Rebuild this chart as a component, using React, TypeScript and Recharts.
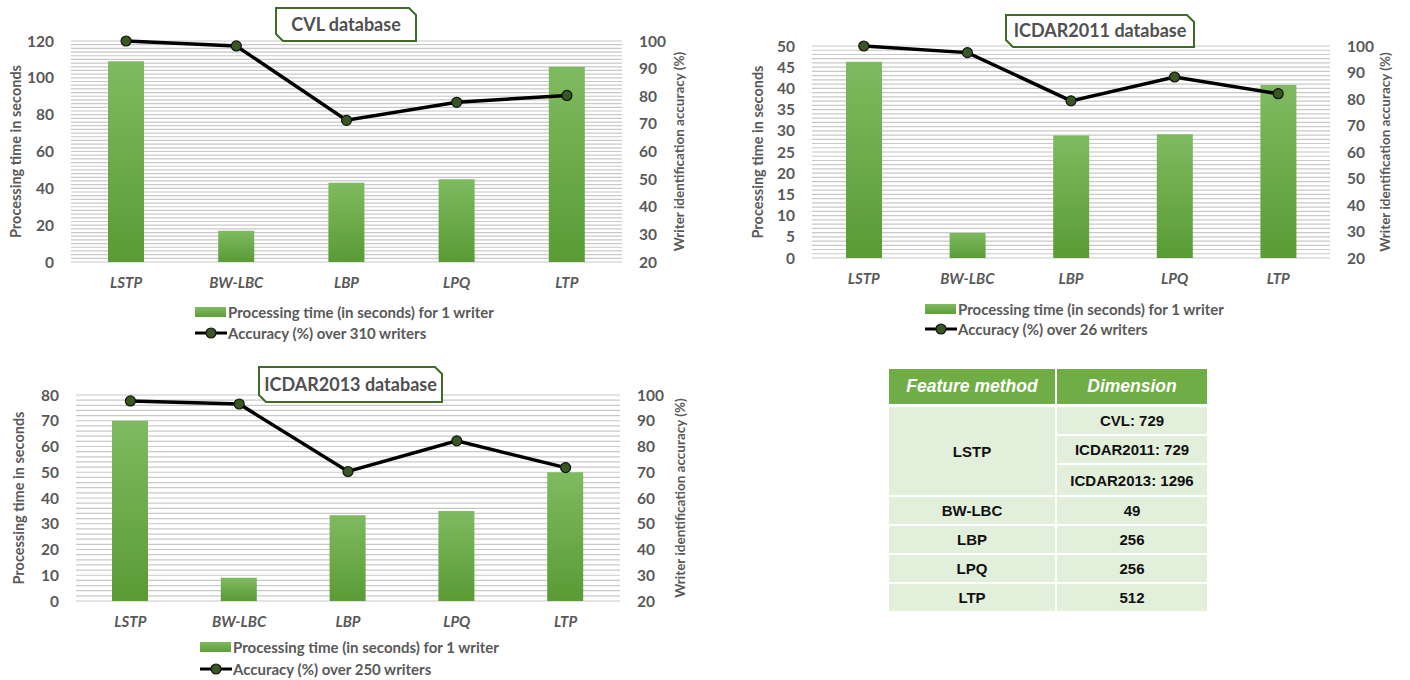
import React from 'react';
import {
  ComposedChart,
  Bar,
  Line,
  XAxis,
  YAxis,
  CartesianGrid,
  Legend,
} from 'recharts';

// ---------- data ----------
const categories = ['LSTP', 'BW-LBC', 'LBP', 'LPQ', 'LTP'];

const cvlTime = [109, 17, 43, 45, 106];
const cvlAcc = [100, 98.2, 71.3, 77.8, 80.3];

const icdar2011Time = [46.3, 5.9, 28.9, 29.2, 40.8];
const icdar2011Acc = [100, 97.5, 79.3, 88.3, 82];

const icdar2013Time = [70, 9, 33.3, 35, 50];
const icdar2013Acc = [97.7, 96.5, 70.3, 82.2, 71.8];

const cvlTimeTicks = [0, 20, 40, 60, 80, 100, 120];
const icdar2011TimeTicks = [0, 5, 10, 15, 20, 25, 30, 35, 40, 45, 50];
const icdar2013TimeTicks = [0, 10, 20, 30, 40, 50, 60, 70, 80];
const accTicks = [20, 30, 40, 50, 60, 70, 80, 90, 100];

const chartTitles = ['CVL database', 'ICDAR2011 database', 'ICDAR2013 database'];
const writerCounts = [310, 26, 250];

const barLegend = 'Processing time (in seconds) for 1 writer';
const leftAxisTitle = 'Processing time in seconds';
const rightAxisTitle = 'Writer identification accuracy (%)';

const tableHeader = ['Feature method', 'Dimension'];
const lstpDims = ['CVL: 729', 'ICDAR2011: 729', 'ICDAR2013: 1296'];
const otherMethods = ['BW-LBC', 'LBP', 'LPQ', 'LTP'];
const otherDims = ['49', '256', '256', '512'];

// ---------- styles ----------
const FONT = 'Lato, "Open Sans", sans-serif';
const GREY = '#595959';

const buildData = (times: number[], accs: number[]) =>
  categories.map((c, i) => ({ name: c, time: times[i], acc: accs[i] }));

const gridValues = (max: number, step: number) => {
  const out: number[] = [];
  for (let v = 0; v <= max + 1e-9; v += step) out.push(Math.round(v * 100) / 100);
  return out;
};

type ChartProps = {
  id: string;
  times: number[];
  accs: number[];
  leftTicks: number[];
  gridStep: number;
  left: number;
  top: number;
  width: number;
  height: number;
  plot: { l: number; r: number; t: number; b: number };
  legendX: number;
  row1Y: number;
  rowH: number;
  lineLabel: string;
  leftTitleX: number;
  rightTitleX: number;
  title: string;
  box: { x1: number; y1: number; x2: number; y2: number };
};

const XTick = (props: any) => {
  const { x, y, payload } = props;
  return (
    <text
      x={x}
      y={y + 26}
      textAnchor="middle"
      fill={GREY}
      fontFamily={FONT}
      fontSize={15}
      fontWeight={700}
      fontStyle="italic"
    >
      {payload.value}
    </text>
  );
};

function TitleBox({ title, box }: { title: string; box: ChartProps['box'] }) {
  const { x1, y1, x2, y2 } = box;
  const c = 8;
  const w = x2 - x1;
  const h = y2 - y1;
  const pts = `1,1 ${w - c},1 ${w - 1},${c} ${w - 1},${h - 1} ${c},${h - 1} 1,${h - c}`;
  return (
    <svg
      width={w}
      height={h}
      style={{ position: 'absolute', left: x1, top: y1, overflow: 'visible' }}
    >
      <polygon points={pts} fill="#ffffff" stroke="#3f6b26" strokeWidth={2} />
      <text
        x={w / 2}
        y={h / 2 + 6}
        textAnchor="middle"
        fill="#505050"
        fontFamily={FONT}
        fontSize={18}
        fontWeight={700}
      >
        {title}
      </text>
    </svg>
  );
}

const makeScaleFn = (sc: any): ((v: number) => number) | null => {
  if (!sc) return null;
  if (typeof sc === 'function') return (v: number) => sc(v);
  if (typeof sc.map === 'function') return (v: number) => sc.map(v);
  if (typeof sc.scale === 'function') return (v: number) => sc.scale(v);
  return null;
};

function DualChart(p: ChartProps) {
  const wL = 60;
  const wR = 60;
  const ml = p.plot.l - p.left - wL;
  const mr = p.left + p.width - p.plot.r - wR;
  const mt = p.plot.t - p.top;
  const legendTop = p.row1Y - p.rowH / 2;
  const L = p.rowH * 2;
  const hX = legendTop - p.plot.b;
  const mb = p.top + p.height - (legendTop + L);
  const data = buildData(p.times, p.accs);
  const leftMax = p.leftTicks[p.leftTicks.length - 1];
  const gradId = `barGrad-${p.id}`;
  const gridVals = gridValues(leftMax, p.gridStep);

  const renderLegend = () => (
    <div
      style={{
        height: L,
        fontFamily: FONT,
        fontSize: 15,
        fontWeight: 700,
        color: GREY,
        whiteSpace: 'nowrap',
      }}
    >
      <div style={{ height: p.rowH, display: 'flex', alignItems: 'center' }}>
        <svg width={33} height={12} style={{ display: 'block' }}>
          <defs>
            <linearGradient id={`lg-${p.id}`} x1="0" y1="0" x2="0" y2="1">
              <stop offset="0%" stopColor="#7fba60" />
              <stop offset="100%" stopColor="#5e9e3a" />
            </linearGradient>
          </defs>
          <rect x={0} y={1} width={31} height={10} fill={`url(#lg-${p.id})`} />
        </svg>
        <span>{barLegend}</span>
      </div>
      <div style={{ height: p.rowH, display: 'flex', alignItems: 'center' }}>
        <svg width={33} height={12} style={{ display: 'block' }}>
          <line x1={0} y1={6} x2={32} y2={6} stroke="#000" strokeWidth={3} />
          <circle cx={16} cy={6} r={5} fill="#385723" stroke="#111" strokeWidth={1.2} />
        </svg>
        <span>{p.lineLabel}</span>
      </div>
    </div>
  );

  const leftTitle = (lp: any) => {
    const vb = lp.viewBox || {};
    const cx = p.leftTitleX - p.left;
    const cy = (vb.y ?? mt) + (vb.height ?? 0) / 2;
    return (
      <text
        x={cx}
        y={cy}
        transform={`rotate(-90 ${cx} ${cy})`}
        textAnchor="middle"
        dominantBaseline="central"
        fill={GREY}
        fontFamily={FONT}
        fontSize={14.5}
        fontWeight={700}
      >
        {leftAxisTitle}
      </text>
    );
  };

  const rightTitle = (lp: any) => {
    const vb = lp.viewBox || {};
    const cx = p.rightTitleX - p.left;
    const cy = (vb.y ?? mt) + (vb.height ?? 0) / 2;
    return (
      <text
        x={cx}
        y={cy}
        transform={`rotate(-90 ${cx} ${cy})`}
        textAnchor="middle"
        dominantBaseline="central"
        fill={GREY}
        fontFamily={FONT}
        fontSize={13.5}
        fontWeight={700}
      >
        {rightAxisTitle}
      </text>
    );
  };

  const gridGen = (args: any) => {
    const ax = args && args.yAxis;
    const f = ax ? makeScaleFn(ax.scale) : null;
    if (!f) return [];
    return gridVals.map((v) => f(v)).filter((y) => Number.isFinite(y));
  };

  return (
    <div style={{ position: 'absolute', left: p.left, top: p.top, width: p.width, height: p.height }}>
      <ComposedChart
        width={p.width}
        height={p.height}
        data={data}
        margin={{ top: mt, right: mr, bottom: mb, left: ml }}
      >
        <defs>
          <linearGradient id={gradId} x1="0" y1="0" x2="0" y2="1">
            <stop offset="0%" stopColor="#7fba60" />
            <stop offset="100%" stopColor="#5a9b35" />
          </linearGradient>
        </defs>
        <CartesianGrid
          yAxisId="left"
          vertical={false}
          stroke="#c8c8c8"
          strokeWidth={1.2}
          horizontalCoordinatesGenerator={gridGen}
        />
        <XAxis
          dataKey="name"
          height={hX}
          tickLine={false}
          axisLine={false}
          tickSize={0}
          tickMargin={0}
          tick={<XTick />}
          interval={0}
        />
        <YAxis
          yAxisId="left"
          orientation="left"
          width={wL}
          domain={[0, leftMax]}
          ticks={p.leftTicks}
          interval={0}
          tickLine={false}
          axisLine={false}
          tickSize={0}
          tickMargin={17}
          tick={{ fill: GREY, fontSize: 15.5, fontWeight: 700, fontFamily: FONT }}
          label={leftTitle}
        />
        <YAxis
          yAxisId="right"
          orientation="right"
          width={wR}
          domain={[20, 100]}
          ticks={accTicks}
          interval={0}
          tickLine={false}
          axisLine={false}
          tickSize={0}
          tickMargin={17}
          tick={{ fill: GREY, fontSize: 15.5, fontWeight: 700, fontFamily: FONT }}
          label={rightTitle}
        />
        <Bar
          yAxisId="left"
          dataKey="time"
          name={barLegend}
          barSize={36}
          fill={`url(#${gradId})`}
          isAnimationActive={false}
        />
        <Line
          yAxisId="right"
          dataKey="acc"
          name={p.lineLabel}
          type="linear"
          stroke="#000000"
          strokeWidth={3.5}
          dot={{ r: 5, fill: '#385723', stroke: '#111', strokeWidth: 1.2 }}
          activeDot={false}
          isAnimationActive={false}
        />
        <Legend
          verticalAlign="bottom"
          content={renderLegend}
          wrapperStyle={{ left: p.legendX - p.left, width: 420, height: L }}
        />
      </ComposedChart>
      <div style={{ position: 'absolute', left: -p.left, top: -p.top }}>
        <TitleBox title={p.title} box={p.box} />
      </div>
    </div>
  );
}

function DimensionTable() {
  const cell: React.CSSProperties = {
    background: '#e2efda',
    display: 'flex',
    alignItems: 'center',
    justifyContent: 'center',
    fontFamily: '"Liberation Sans", Arial, sans-serif',
    fontWeight: 700,
    fontSize: 15,
    color: '#111',
  };
  const head: React.CSSProperties = {
    ...cell,
    background: '#70ad47',
    color: '#ffffff',
    fontStyle: 'italic',
    fontSize: 17.5,
  };
  const col1 = 166;
  const col2 = 150;
  const gap = 2;
  return (
    <div style={{ position: 'absolute', left: 889, top: 369, width: col1 + col2 + gap }}>
      <div style={{ display: 'flex', gap }}>
        <div style={{ ...head, width: col1, height: 35 }}>{tableHeader[0]}</div>
        <div style={{ ...head, width: col2, height: 35 }}>{tableHeader[1]}</div>
      </div>
      <div style={{ display: 'flex', gap, marginTop: 3 }}>
        <div style={{ ...cell, width: col1, height: 88 }}>{categories[0]}</div>
        <div style={{ width: col2, display: 'flex', flexDirection: 'column', gap }}>
          {lstpDims.map((d, i) => (
            <div key={d} style={{ ...cell, height: i === 2 ? 30 : 27 }}>
              {d}
            </div>
          ))}
        </div>
      </div>
      {otherMethods.map((m, i) => (
        <div key={m} style={{ display: 'flex', gap, marginTop: gap }}>
          <div style={{ ...cell, width: col1, height: 27 }}>{m}</div>
          <div style={{ ...cell, width: col2, height: 27 }}>{otherDims[i]}</div>
        </div>
      ))}
    </div>
  );
}

export default function App() {
  return (
    <div style={{ position: 'absolute', left: 0, top: 0, width: 1410, height: 680, background: '#fff', overflow: 'hidden' }}>
      <DualChart
        id="cvl"
        times={cvlTime}
        accs={cvlAcc}
        leftTicks={cvlTimeTicks}
        gridStep={2}
        left={0}
        top={0}
        width={700}
        height={345}
        plot={{ l: 71, r: 622, t: 41, b: 262 }}
        legendX={195}
        row1Y={311.5}
        rowH={21}
        lineLabel={`Accuracy (%) over ${writerCounts[0]} writers`}
        leftTitleX={15}
        rightTitleX={679}
        title={chartTitles[0]}
        box={{ x1: 275, y1: 7, x2: 417, y2: 42 }}
      />
      <DualChart
        id="i11"
        times={icdar2011Time}
        accs={icdar2011Acc}
        leftTicks={icdar2011TimeTicks}
        gridStep={1}
        left={740}
        top={0}
        width={670}
        height={341}
        plot={{ l: 812, r: 1330, t: 46, b: 258 }}
        legendX={925}
        row1Y={309}
        rowH={20}
        lineLabel={`Accuracy (%) over ${writerCounts[1]} writers`}
        leftTitleX={757}
        rightTitleX={1385}
        title={chartTitles[1]}
        box={{ x1: 1005, y1: 14, x2: 1195, y2: 48 }}
      />
      <DualChart
        id="i13"
        times={icdar2013Time}
        accs={icdar2013Acc}
        leftTicks={icdar2013TimeTicks}
        gridStep={2}
        left={0}
        top={350}
        width={700}
        height={330}
        plot={{ l: 76, r: 620, t: 395, b: 601 }}
        legendX={200}
        row1Y={647}
        rowH={22}
        lineLabel={`Accuracy (%) over ${writerCounts[2]} writers`}
        leftTitleX={18}
        rightTitleX={680}
        title={chartTitles[2]}
        box={{ x1: 258, y1: 366, x2: 443, y2: 403 }}
      />
      <DimensionTable />
    </div>
  );
}
